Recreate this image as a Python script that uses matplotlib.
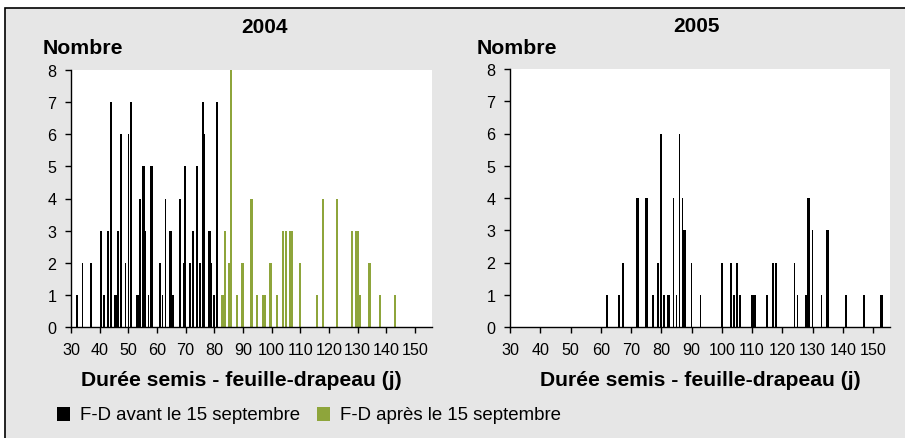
import matplotlib
matplotlib.use("Agg")
import matplotlib.pyplot as plt
from matplotlib.patches import Rectangle

plt.rcParams['font.family'] = ['Liberation Sans', 'DejaVu Sans']

# 2004 - F-D avant le 15 septembre
jours_2004_avant = [32, 34, 37, 40.5, 41.5, 43, 44, 45.25, 45.75, 46.5, 47.5, 49, 50, 51,
                    53, 53.5, 54, 55, 55.5, 56, 57, 57.75, 58.25, 61, 62, 63, 64.5, 65, 65.6,
                    68, 69.25, 69.75, 71.5, 72.5, 74, 75, 76, 76.5, 78, 78.5, 79, 80, 81]
nb_2004_avant = [1, 2, 2, 3, 1, 3, 7, 1, 1, 3, 6, 2, 6, 7,
                 1, 1, 4, 5, 5, 3, 1, 5, 5, 2, 1, 4, 3, 3, 1,
                 4, 2, 5, 2, 3, 5, 2, 7, 6, 3, 3, 2, 1, 7]

# 2004 - F-D apres le 15 septembre
jours_2004_apres = [82.6, 83.1, 83.75, 85, 85.5, 86, 88, 89.6, 90.1, 93, 95, 97.1, 97.6,
                    99.35, 99.85, 102, 104, 105, 106.6, 107.1, 110, 116, 118, 123, 128,
                    129.5, 130, 131, 133.85, 134.35, 138, 143]
nb_2004_apres = [1, 1, 3, 2, 2, 8, 1, 2, 2, 4, 1, 1, 1,
                 2, 2, 1, 3, 3, 3, 3, 2, 1, 4, 4, 3,
                 3, 3, 1, 2, 2, 1, 1]

# 2005
jours_2005 = [62, 66, 67.3, 72, 72.5, 74.75, 75.25, 77.25, 79, 80, 81, 82.25, 82.75, 84, 85,
              86, 87, 87.5, 88, 90, 93, 100, 103, 104, 105, 106, 110, 110.5, 111, 115, 117,
              118, 124, 125, 127.75, 128.5, 129, 130, 133, 134.75, 135.25, 141, 147, 152.5, 153]
nb_2005 = [1, 1, 2, 4, 4, 4, 4, 1, 2, 6, 1, 1, 1, 4, 1,
           6, 4, 3, 3, 2, 1, 2, 2, 1, 2, 1, 1, 1, 1, 1, 2,
           2, 2, 1, 1, 4, 4, 3, 1, 3, 3, 1, 1, 1, 1]

annees = ['2004', '2005']
xticks = list(range(30, 151, 10))
yticks = list(range(0, 9))
legende = ['F-D avant le 15 septembre', 'F-D après le 15 septembre']
noir = '#000000'
vert = '#8ea53b'
fond = '#e6e6e6'

W, H = 905, 439
fig = plt.figure(figsize=(W / 100, H / 100), dpi=100)
fig.patch.set_facecolor('white')

# cadre gris (derriere les axes)
fig.patches.append(Rectangle((5 / W, -0.05), 1.1, (H - 9) / H + 0.05, transform=fig.transFigure,
                             facecolor=fond, edgecolor='black', linewidth=1.2, zorder=-5))


def px_axes(x0, x1, ytop, ybot):
    return fig.add_axes([x0 / W, (H - ybot) / H, (x1 - x0) / W, (ybot - ytop) / H])


ax1 = px_axes(71, 432, 71, 328)
ax2 = px_axes(510, 890, 70, 328)

opts = dict(linewidth=0, antialiased=False)
ax1.bar(jours_2004_avant, nb_2004_avant, width=0.55, color=noir, **opts)
ax1.bar(jours_2004_apres, nb_2004_apres, width=0.7, color=vert, **opts)
ax2.bar(jours_2005, nb_2005, width=0.55, color=noir, **opts)

for ax, xmax in [(ax1, 156.0), (ax2, 155.6)]:
    ax.set_facecolor('white')
    ax.set_xlim(30, xmax)
    ax.set_ylim(0, 8)
    ax.set_xticks(xticks)
    ax.set_yticks(yticks)
    ax.spines['top'].set_visible(False)
    ax.spines['right'].set_visible(False)
    ax.spines['left'].set_linewidth(1.0)
    ax.spines['bottom'].set_linewidth(1.0)
    ax.tick_params(direction='out', length=4.5, width=1.0, labelsize=11.6, pad=6)

# titres et libelles
fig.text(264 / W, 1 - 27.5 / H, annees[0], ha='center', va='center', fontsize=15, fontweight='bold')
fig.text(696 / W, 1 - 27 / H, annees[1], ha='center', va='center', fontsize=15, fontweight='bold')
fig.text(43 / W, 1 - 48 / H, 'Nombre', ha='left', va='center', fontsize=15.3, fontweight='bold')
fig.text(477 / W, 1 - 48 / H, 'Nombre', ha='left', va='center', fontsize=15.3, fontweight='bold')
fig.text(241.5 / W, 1 - 381 / H, 'Durée semis - feuille-drapeau (j)', ha='center', va='center',
         fontsize=15.2, fontweight='bold')
fig.text(700 / W, 1 - 381 / H, 'Durée semis - feuille-drapeau (j)', ha='center', va='center',
         fontsize=15.2, fontweight='bold')

# legende
for x_carre, x_txt, coul, txt in [(57, 80, noir, legende[0]), (317, 340, vert, legende[1])]:
    fig.patches.append(Rectangle((x_carre / W, 1 - 422 / H), 13 / W, 14 / H,
                                 transform=fig.transFigure, facecolor=coul, edgecolor='none'))
    fig.text(x_txt / W, 1 - 415 / H, txt, ha='left', va='center', fontsize=13.4)

fig.savefig('out.png', dpi=100)
